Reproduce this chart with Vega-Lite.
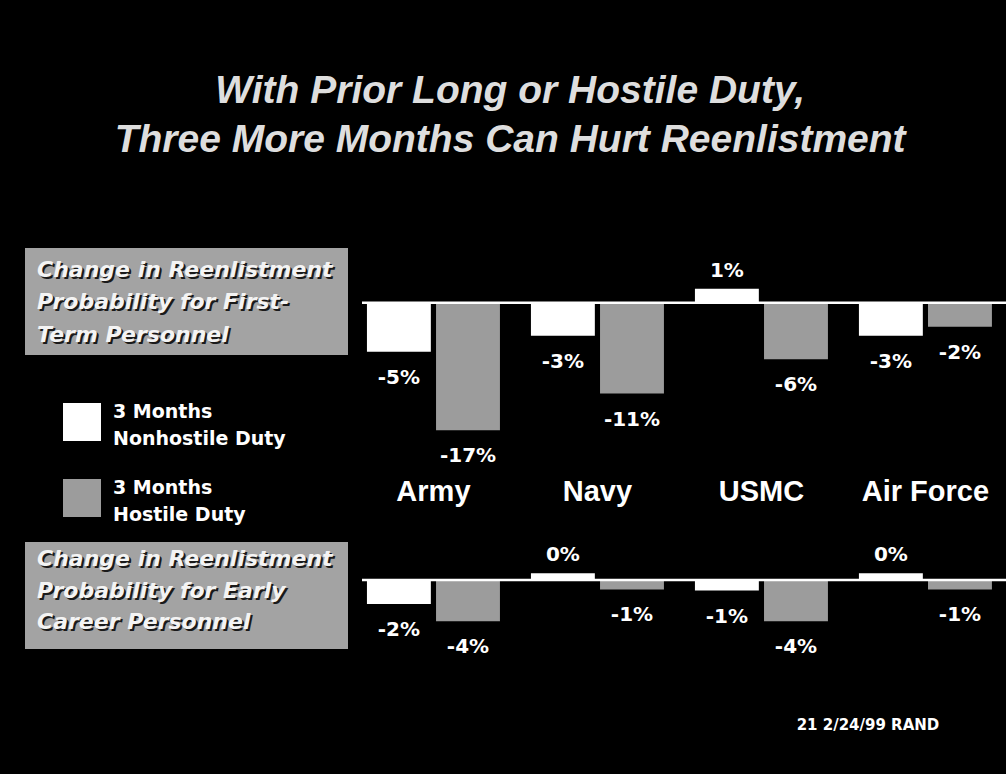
{
  "$schema": "https://vega.github.io/schema/vega-lite/v6.json",
  "background": "#000000",
  "padding": {"left": 25, "top": 72, "right": 10, "bottom": 60},
  "title": {
    "text": ["With Prior Long or Hostile Duty,", "Three More Months Can Hurt Reenlistment"],
    "font": "Liberation Sans", "fontSize": 39, "fontWeight": "bold", "fontStyle": "italic",
    "color": "#dedede", "lineHeight": 49, "anchor": "middle", "frame": "bounds", "offset": 88, "dx": -6
  },
  "datasets": {
    "first": [
      {"service": "Army", "type": "Nonhostile", "value": -0.05},
      {"service": "Army", "type": "Hostile", "value": -0.17},
      {"service": "Navy", "type": "Nonhostile", "value": -0.03},
      {"service": "Navy", "type": "Hostile", "value": -0.11},
      {"service": "USMC", "type": "Nonhostile", "value": 0.01},
      {"service": "USMC", "type": "Hostile", "value": -0.06},
      {"service": "Air Force", "type": "Nonhostile", "value": -0.03},
      {"service": "Air Force", "type": "Hostile", "value": -0.02}
    ],
    "early": [
      {"service": "Army", "type": "Nonhostile", "value": -0.02},
      {"service": "Army", "type": "Hostile", "value": -0.04},
      {"service": "Navy", "type": "Nonhostile", "value": 0.004},
      {"service": "Navy", "type": "Hostile", "value": -0.006},
      {"service": "USMC", "type": "Nonhostile", "value": -0.007},
      {"service": "USMC", "type": "Hostile", "value": -0.04},
      {"service": "Air Force", "type": "Nonhostile", "value": 0.004},
      {"service": "Air Force", "type": "Hostile", "value": -0.006}
    ],
    "box1": [
      {"line": 1, "text": "Change in Reenlistment"},
      {"line": 2, "text": "Probability for First-"},
      {"line": 3, "text": "Term Personnel"}
    ],
    "box2": [
      {"line": 1, "text": "Change in Reenlistment"},
      {"line": 2, "text": "Probability for Early"},
      {"line": 3, "text": "Career Personnel"}
    ],
    "zero": [{"base": 0}]
  },
  "columns": 2,
  "spacing": {"row": 72, "column": 14},
  "bounds": "flush",
  "resolve": {
    "scale": {"color": "shared", "x": "independent", "y": "independent"},
    "legend": {"color": "shared"}
  },
  "concat": [
    {
      "width": 323, "height": 107,
      "view": {"fill": "#a3a3a3", "stroke": null},
      "data": {"name": "box1"},
      "encoding": {
        "y": {"field": "line", "type": "ordinal", "axis": null, "scale": {"type": "point", "padding": 0.636, "align": 0.517}},
        "text": {"field": "text"}
      },
      "layer": [
        {"mark": {"type": "text", "align": "left", "baseline": "middle", "dx": -147.5, "dy": 2, "font": "DejaVu Sans", "fontSize": 22, "fontWeight": "bold", "fontStyle": "italic", "color": "#1a1a1a"}},
        {"mark": {"type": "text", "align": "left", "baseline": "middle", "dx": -149.5, "dy": 0, "font": "DejaVu Sans", "fontSize": 22, "fontWeight": "bold", "fontStyle": "italic", "color": "#f4f4f4"}}
      ]
    },
    {
      "width": 644, "height": 222,
      "data": {"name": "first"},
      "layer": [
        {
          "mark": {"type": "bar"},
          "encoding": {
            "x": {"field": "service", "type": "nominal", "scale": {"domain": ["Army", "Navy", "USMC", "Air Force"], "paddingInner": 0.189, "paddingOuter": 0.058, "align": 0.26},
                  "axis": {"orient": "bottom", "domain": false, "ticks": false, "grid": false, "labelPadding": 7, "labelAngle": 0, "labelFont": "Liberation Sans", "labelFontSize": 29, "labelFontWeight": "bold", "labelColor": "#ffffff", "title": null}},
            "xOffset": {"field": "type", "type": "nominal", "scale": {"domain": ["Nonhostile", "Hostile"], "paddingInner": 0.075, "paddingOuter": 0}},
            "y": {"field": "value", "type": "quantitative", "scale": {"type": "pow", "exponent": 0.78, "domain": [-0.2406, 0.05739], "nice": false, "zero": false}, "axis": null},
            "y2": {"datum": 0},
            "color": {"field": "type", "type": "nominal", "scale": {"domain": ["Nonhostile", "Hostile"], "range": ["#ffffff", "#9c9c9c"]},
                      "legend": {"orient": "none", "legendX": 38, "legendY": 155, "title": null, "direction": "vertical",
                                 "labelExpr": "datum.label == 'Nonhostile' ? ['3 Months', 'Nonhostile Duty'] : ['3 Months', 'Hostile Duty']"}}
          }
        },
        {
          "data": {"name": "zero"},
          "mark": {"type": "rule", "color": "#ffffff", "strokeWidth": 2.5},
          "encoding": {"y": {"datum": 0}}
        },
        {
          "transform": [{"filter": "datum.value < 0"}],
          "mark": {"type": "text", "baseline": "middle", "dy": 26, "font": "DejaVu Sans", "fontSize": 20, "fontWeight": "bold", "color": "#ffffff"},
          "encoding": {
            "x": {"field": "service", "type": "nominal"},
            "xOffset": {"field": "type", "type": "nominal"},
            "y": {"field": "value", "type": "quantitative"},
            "text": {"field": "value", "type": "quantitative", "format": ".0%"}
          }
        },
        {
          "transform": [{"filter": "datum.value >= 0"}],
          "mark": {"type": "text", "baseline": "middle", "dy": -18, "font": "DejaVu Sans", "fontSize": 20, "fontWeight": "bold", "color": "#ffffff"},
          "encoding": {
            "x": {"field": "service", "type": "nominal"},
            "xOffset": {"field": "type", "type": "nominal"},
            "y": {"field": "value", "type": "quantitative"},
            "text": {"field": "value", "type": "quantitative", "format": ".0%"}
          }
        }
      ]
    },
    {
      "width": 323, "height": 107,
      "view": {"fill": "#a3a3a3", "stroke": null},
      "data": {"name": "box2"},
      "encoding": {
        "y": {"field": "line", "type": "ordinal", "axis": null, "scale": {"type": "point", "padding": 0.6875, "align": 0.39}},
        "text": {"field": "text"}
      },
      "layer": [
        {"mark": {"type": "text", "align": "left", "baseline": "middle", "dx": -147.5, "dy": 2, "font": "DejaVu Sans", "fontSize": 22, "fontWeight": "bold", "fontStyle": "italic", "color": "#1a1a1a"}},
        {"mark": {"type": "text", "align": "left", "baseline": "middle", "dx": -149.5, "dy": 0, "font": "DejaVu Sans", "fontSize": 22, "fontWeight": "bold", "fontStyle": "italic", "color": "#f4f4f4"}}
      ]
    },
    {
      "width": 644, "height": 118,
      "data": {"name": "early"},
      "title": {"text": "21 2/24/99 RAND", "orient": "bottom", "anchor": "end", "dx": -68, "offset": 58, "baseline": "top", "font": "DejaVu Sans", "fontSize": 15, "fontWeight": "bold", "color": "#ffffff"},
      "layer": [
        {
          "mark": {"type": "bar"},
          "encoding": {
            "x": {"field": "service", "type": "nominal", "scale": {"domain": ["Army", "Navy", "USMC", "Air Force"], "paddingInner": 0.189, "paddingOuter": 0.058, "align": 0.26}, "axis": null},
            "xOffset": {"field": "type", "type": "nominal", "scale": {"domain": ["Nonhostile", "Hostile"], "paddingInner": 0.075, "paddingOuter": 0}},
            "y": {"field": "value", "type": "quantitative", "scale": {"type": "pow", "exponent": 0.78, "domain": [-0.09344, 0.03597], "nice": false, "zero": false}, "axis": null},
            "y2": {"datum": 0},
            "color": {"field": "type", "type": "nominal", "scale": {"domain": ["Nonhostile", "Hostile"], "range": ["#ffffff", "#9c9c9c"]},
                      "legend": {"orient": "none", "legendX": 38, "legendY": 155, "title": null, "direction": "vertical",
                                 "labelExpr": "datum.label == 'Nonhostile' ? ['3 Months', 'Nonhostile Duty'] : ['3 Months', 'Hostile Duty']"}}
          }
        },
        {
          "data": {"name": "zero"},
          "mark": {"type": "rule", "color": "#ffffff", "strokeWidth": 2.5},
          "encoding": {"y": {"datum": 0}}
        },
        {
          "transform": [{"filter": "datum.value < 0"}],
          "mark": {"type": "text", "baseline": "middle", "dy": 26, "font": "DejaVu Sans", "fontSize": 20, "fontWeight": "bold", "color": "#ffffff"},
          "encoding": {
            "x": {"field": "service", "type": "nominal"},
            "xOffset": {"field": "type", "type": "nominal"},
            "y": {"field": "value", "type": "quantitative"},
            "text": {"field": "value", "type": "quantitative", "format": ".0%"}
          }
        },
        {
          "transform": [{"filter": "datum.value >= 0"}],
          "mark": {"type": "text", "baseline": "middle", "dy": -18, "font": "DejaVu Sans", "fontSize": 20, "fontWeight": "bold", "color": "#ffffff"},
          "encoding": {
            "x": {"field": "service", "type": "nominal"},
            "xOffset": {"field": "type", "type": "nominal"},
            "y": {"field": "value", "type": "quantitative"},
            "text": {"field": "value", "type": "quantitative", "format": ".0%"}
          }
        }
      ]
    }
  ],
  "config": {
    "view": {"stroke": null},
    "locale": {"number": {"decimal": ".", "thousands": ",", "grouping": [3], "currency": ["$", ""], "minus": "-"}},
    "legend": {
      "symbolType": "square", "symbolSize": 1444, "symbolStrokeWidth": 0, "symbolOpacity": 1,
      "labelFont": "DejaVu Sans", "labelFontSize": 19, "labelFontWeight": "bold", "labelColor": "#ffffff",
      "labelBaseline": "bottom",
      "labelOffset": 12, "labelLimit": 300, "rowPadding": 30, "padding": 0
    },
    "style": {"guide-label": {"lineHeight": 27}}
  }
}
